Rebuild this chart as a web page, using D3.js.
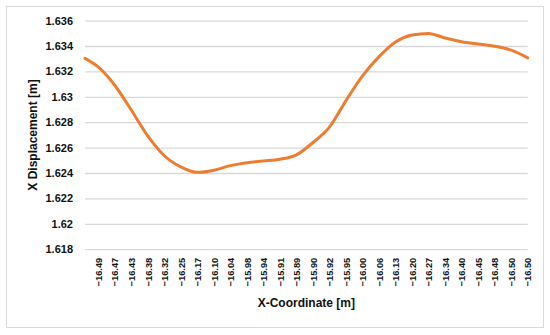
<!DOCTYPE html>
<html>
<head>
<meta charset="utf-8">
<script src="https://cdn.jsdelivr.net/npm/d3@7"></script>
<style>
  body { margin: 0; background: #fff; }
  text { font-family: "Liberation Sans", Arial, sans-serif; font-weight: bold; fill: #111; }
</style>
</head>
<body>
<svg id="chart" width="550" height="335"></svg>
<script>
// category labels shown on the x axis (every 5th sample)
const xLabels = ["\u221216.49", "\u221216.47", "\u221216.43", "\u221216.38", "\u221216.32", "\u221216.25",
  "\u221216.17", "\u221216.10", "\u221216.04", "\u221215.98", "\u221215.94", "\u221215.91", "\u221215.89",
  "\u221215.90", "\u221215.92", "\u221215.95", "\u221216.00", "\u221216.06", "\u221216.13", "\u221216.20",
  "\u221216.27", "\u221216.34", "\u221216.40", "\u221216.45", "\u221216.48", "\u221216.50", "\u221216.50"];

// sample index of each plotted point (first point + each labelled point)
const sampleIdx = [0, 4, 9, 14, 19, 24, 29, 34, 39, 44, 49, 54, 59, 64, 69, 74, 79, 84, 89, 94,
  99, 104, 109, 114, 119, 124, 129, 134];

// X displacement [m] at those samples
const displacement = [1.63303, 1.63235, 1.63091, 1.62896, 1.62692, 1.62536, 1.62448, 1.62405,
  1.62422, 1.62458, 1.62481, 1.62494, 1.62508, 1.62543, 1.62640, 1.62761, 1.62970, 1.63164,
  1.63316, 1.63432, 1.63486, 1.63499, 1.63463, 1.63434, 1.63415, 1.63398, 1.63367, 1.63307];

const yTicks = [1.618, 1.62, 1.622, 1.624, 1.626, 1.628, 1.63, 1.632, 1.634, 1.636];

const lastIdx = 134;
const firstLabelIdx = 4, labelEvery = 5;

var svg = d3.select("#chart");
var margin = {top: 20.6, right: 22.3, bottom: 85.8, left: 85};
var width = +svg.attr("width") - margin.left - margin.right;
var height = +svg.attr("height") - margin.top - margin.bottom;

// chart border
svg.append("rect")
  .attr("x", 6.5).attr("y", 6.5)
  .attr("width", 537).attr("height", 321)
  .attr("fill", "#fff")
  .attr("stroke", "#d9d9d9");

var g = svg.append("g")
  .attr("transform", "translate(" + margin.left + "," + margin.top + ")");

var x = d3.scaleLinear().domain([0, lastIdx]).range([0, width]);
var y = d3.scaleLinear().domain([1.618, 1.636]).range([height, 0]);

// gridlines + y labels
var yAxis = g.append("g")
  .call(d3.axisLeft(y).tickValues(yTicks).tickSize(-width).tickPadding(12)
    .tickFormat(d => d3.format("")(+d.toFixed(3))));
yAxis.select(".domain").remove();
yAxis.selectAll(".tick line").attr("stroke", "#d9d9d9").attr("stroke-width", 1.3);
yAxis.selectAll(".tick text")
  .style("font-family", "'Liberation Sans', Arial, sans-serif")
  .style("font-weight", "bold")
  .style("font-size", "11px")
  .attr("fill", "#111");

// x labels
var labelPos = xLabels.map((d, i) => firstLabelIdx + i * labelEvery);
var xAxis = g.append("g")
  .attr("transform", "translate(0," + height + ")")
  .call(d3.axisBottom(x).tickValues(labelPos).tickSize(0)
    .tickFormat((d, i) => xLabels[i]));
xAxis.select(".domain").remove();
xAxis.selectAll(".tick text")
  .style("font-family", "'Liberation Sans', Arial, sans-serif")
  .style("font-weight", "bold")
  .style("font-size", "9.3px")
  .attr("fill", "#111")
  .attr("text-anchor", "end")
  .attr("transform", "rotate(-90)")
  .attr("x", -8.5)
  .attr("y", 0)
  .attr("dy", "0.35em");

// line
var pts = sampleIdx.map((d, i) => ({idx: d, v: displacement[i]}));
var line = d3.line()
  .x(d => x(d.idx))
  .y(d => y(d.v))
  .curve(d3.curveMonotoneX);

g.append("path")
  .datum(pts)
  .attr("fill", "none")
  .attr("stroke", "#ed7d31")
  .attr("stroke-width", 3)
  .attr("stroke-linejoin", "round")
  .attr("stroke-linecap", "round")
  .attr("d", line);

// axis titles
svg.append("text")
  .attr("x", margin.left + width / 2)
  .attr("y", 307)
  .attr("text-anchor", "middle")
  .style("font-size", "12px")
  .text("X-Coordinate [m]");

svg.append("text")
  .attr("transform", "translate(33," + 135 + ") rotate(-90)")
  .attr("text-anchor", "middle")
  .attr("dy", "0.35em")
  .style("font-size", "12px")
  .text("X Displacement [m]");
</script>
</body>
</html>
